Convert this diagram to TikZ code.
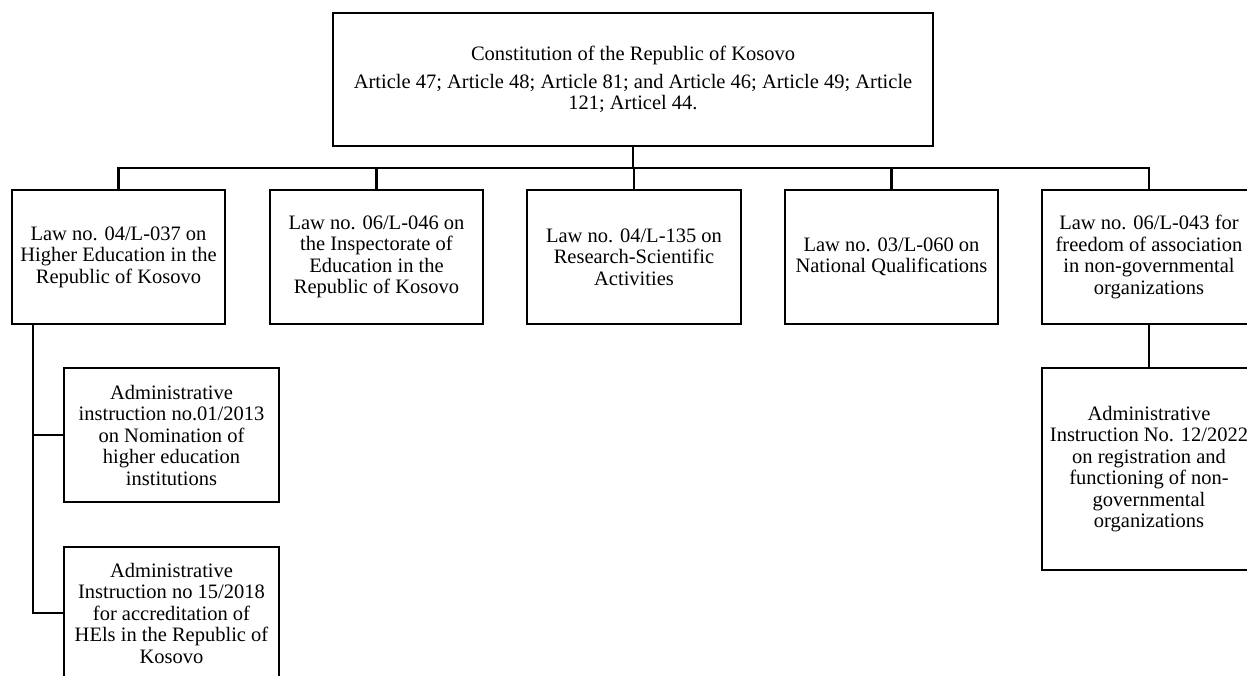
\documentclass[tikz,border=0pt]{standalone}
\usepackage{fontspec}
\setmainfont{Liberation Serif}
\begin{document}
\begin{tikzpicture}[x=1pt,y=-1pt,
  box/.style={draw, line width=2.6pt, inner sep=0pt, align=center,
    font=\fontsize{20.5}{21.5}\selectfont},
  link/.style={line width=2.6pt}]
\useasboundingbox (0,0) rectangle (1247,675);

% top: constitution
\node[box, minimum width=600, minimum height=133] (top) at (633,79.5)
  {Constitution of the Republic of Kosovo\\[6pt]
   Article 47; Article 48; Article 81; and Article 46; Article 49; Article\\
   121; Articel 44.};

% laws
\node[box, minimum width=213, minimum height=134] (b1) at (118.5,257)
  {Law no. 04/L-037 on\\Higher Education in the\\Republic of Kosovo};
\node[box, minimum width=213, minimum height=134] (b2) at (376.5,257)
  {Law no. 06/L-046 on\\the Inspectorate of\\Education in the\\Republic of Kosovo};
\node[box, minimum width=214, minimum height=134] (b3) at (634,257)
  {Law no. 04/L-135 on\\Research-Scientific\\Activities};
\node[box, minimum width=213, minimum height=134] (b4) at (891.5,257)
  {Law no. 03/L-060 on\\National Qualifications};
\node[box, minimum width=214, minimum height=134] (b5) at (1149,257)
  {Law no. 06/L-043 for\\freedom of association\\in non-governmental\\organizations};

% administrative instructions
\node[box, minimum width=215, minimum height=134] (a1) at (171.5,435)
  {Administrative\\instruction no.01/2013\\on Nomination of\\higher education\\institutions};
\node[box, minimum width=215, minimum height=132] (a2) at (171.5,613)
  {Administrative\\Instruction no 15/2018\\for accreditation of\\HEls in the Republic of\\Kosovo};
\node[box, minimum width=214, minimum height=202] (a3) at (1149,469)
  {Administrative\\Instruction No. 12/2022\\on registration and\\functioning of non-\\governmental\\organizations};

% connectors
\coordinate (bus) at (633,168);
\coordinate (s1) at (33,324);
\draw[link] (top.south) -- (bus);
\draw[link] (bus) -| (b1.north);
\draw[link] (bus) -| (b2.north);
\draw[link] (bus) -| (b3.north);
\draw[link] (bus) -| (b4.north);
\draw[link] (bus) -| (b5.north);
\draw[link] (s1) |- (a1.west);
\draw[link] (s1) |- (a2.west);
\draw[link] (b5.south) -- (a3.north);
\end{tikzpicture}
\end{document}
